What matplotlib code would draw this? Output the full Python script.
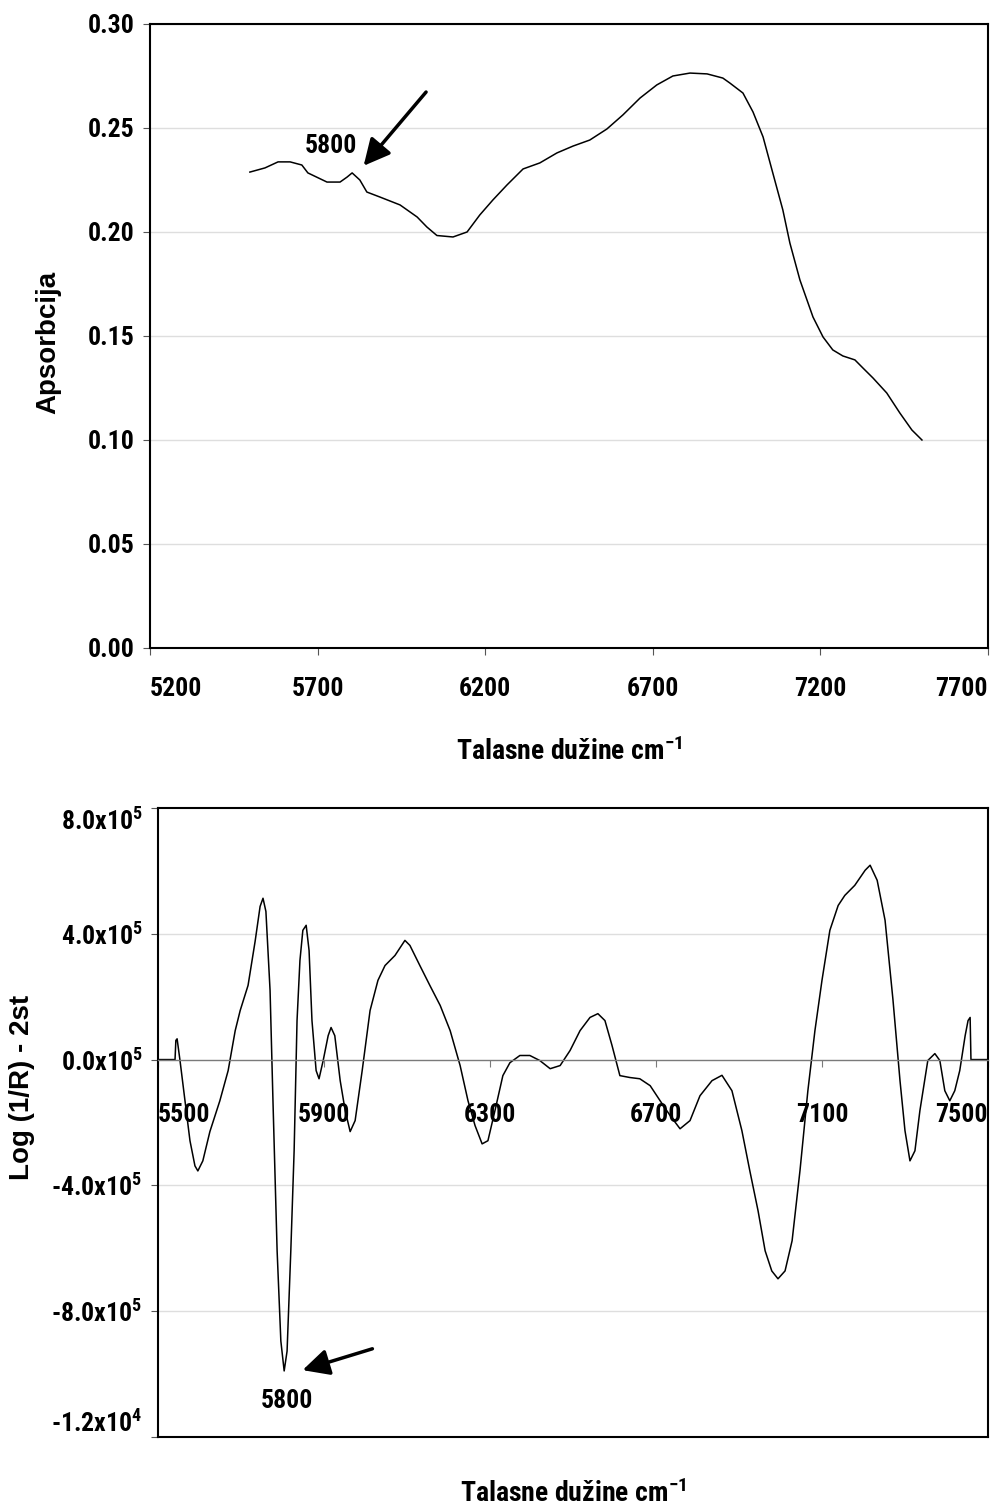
import matplotlib
matplotlib.use("Agg")
import matplotlib.pyplot as plt

# fonts: condensed bold like the original Excel chart
plt.rcParams['font.family'] = ['Roboto Condensed', 'Liberation Sans', 'DejaVu Sans']
plt.rcParams['font.weight'] = 'bold'
plt.rcParams['axes.labelweight'] = 'bold'
plt.rcParams['mathtext.fontset'] = 'custom'
plt.rcParams['mathtext.rm'] = 'Roboto Condensed:bold'
plt.rcParams['mathtext.bf'] = 'Roboto Condensed:bold'
plt.rcParams['mathtext.default'] = 'rm'

# ---------- data ----------
# top: absorption spectrum
abs_wn = [5498, 5543, 5582, 5618, 5653, 5671, 5728, 5767, 5788, 5803, 5826, 5847,
          5886, 5946, 5997, 6026, 6056, 6104, 6146, 6184, 6223, 6265, 6313, 6363,
          6414, 6462, 6512, 6563, 6611, 6662, 6712, 6760, 6811, 6862, 6909, 6930,
          6969, 6999, 7029, 7058, 7088, 7109, 7139, 7178, 7208, 7237, 7267, 7303,
          7327, 7357, 7398, 7437, 7473, 7503]
abs_val = [0.2288, 0.2308, 0.2337, 0.2337, 0.2322, 0.2284, 0.2240, 0.2240, 0.2264,
           0.2284, 0.2250, 0.2192, 0.2168, 0.2130, 0.2072, 0.2024, 0.1983, 0.1976,
           0.2000, 0.2082, 0.2154, 0.2226, 0.2303, 0.2332, 0.2380, 0.2413, 0.2442,
           0.2495, 0.2563, 0.2644, 0.2707, 0.2750, 0.2764, 0.2760, 0.2740, 0.2716,
           0.2668, 0.2577, 0.2457, 0.2284, 0.2106, 0.1947, 0.1769, 0.1591, 0.1495,
           0.1433, 0.1404, 0.1385, 0.1346, 0.1298, 0.1226, 0.1130, 0.1048, 0.1000]

# bottom: second derivative (units of 1e5)
d2_wn = [5500, 5541, 5543, 5546, 5553, 5565, 5577, 5589, 5596, 5608, 5625, 5649,
         5669, 5686, 5698, 5717, 5734, 5746, 5753, 5760, 5770, 5777, 5787, 5796,
         5804, 5811, 5820, 5828, 5835, 5842, 5849, 5857, 5864, 5871, 5881, 5888,
         5898, 5910, 5917, 5926, 5939, 5951, 5963, 5975, 5992, 6011, 6030, 6047,
         6071, 6095, 6107, 6131, 6155, 6180, 6204, 6228, 6247, 6264, 6281, 6295,
         6312, 6331, 6348, 6372, 6396, 6420, 6445, 6469, 6493, 6517, 6541, 6560,
         6577, 6594, 6613, 6637, 6661, 6686, 6710, 6734, 6758, 6782, 6806, 6835,
         6859, 6883, 6907, 6926, 6946, 6963, 6979, 6994, 7011, 7028, 7047, 7066,
         7083, 7100, 7119, 7139, 7155, 7179, 7204, 7216, 7233, 7252, 7271, 7288,
         7300, 7312, 7324, 7336, 7355, 7372, 7384, 7396, 7408, 7420, 7432, 7445,
         7452, 7457, 7459, 7500]
d2_val = [0.0, 0.0, 0.61, 0.66, -0.03, -1.31, -2.58, -3.38, -3.54, -3.22, -2.29, -1.31,
          -0.35, 0.92, 1.56, 2.36, 3.76, 4.87, 5.13, 4.71, 2.20, -1.31, -6.08, -8.95,
          -9.90, -9.27, -6.08, -2.90, 1.24, 3.15, 4.11, 4.27, 3.47, 1.24, -0.35, -0.61,
          -0.03, 0.76, 1.02, 0.76, -0.67, -1.62, -2.29, -1.94, -0.35, 1.56, 2.52, 2.99,
          3.31, 3.79, 3.63, 2.99, 2.36, 1.72, 0.92, -0.19, -1.31, -2.10, -2.68, -2.58,
          -1.62, -0.51, -0.10, 0.13, 0.13, -0.03, -0.29, -0.19, 0.29, 0.92, 1.34, 1.46,
          1.24, 0.45, -0.51, -0.57, -0.61, -0.83, -1.31, -1.78, -2.20, -1.94, -1.15, -0.67,
          -0.50, -0.99, -2.26, -3.53, -4.81, -6.08, -6.72, -6.97, -6.72, -5.76, -3.53, -0.99,
          0.92, 2.52, 4.11, 4.90, 5.22, 5.54, 6.02, 6.18, 5.70, 4.43, 1.91, -0.67,
          -2.26, -3.22, -2.90, -1.62, -0.03, 0.19, -0.03, -0.99, -1.31, -0.99, -0.35, 0.76,
          1.24, 1.34, 0.0, 0.0]

top_xticks = [5200, 5700, 6200, 6700, 7200, 7700]
top_yticks = [0.00, 0.05, 0.10, 0.15, 0.20, 0.25, 0.30]
bot_xticks = [5500, 5900, 6300, 6700, 7100, 7500]
bot_yticks = [8, 4, 0, -4, -8, -12]
bot_ylabels = [r'8.0x10$^{5}$', r'4.0x10$^{5}$', r'0.0x10$^{5}$',
               r'-4.0x10$^{5}$', r'-8.0x10$^{5}$', r'-1.2x10$^{4}$']

xlabel = r'Talasne dužine cm$^{-1}$'
TICK_FS = 18.5
GRID = '#dedede'
ARROW = dict(arrowstyle='-|>', lw=2.5, mutation_scale=40, color='black')

fig = plt.figure(figsize=(10.02, 15.08), dpi=100)

# ---------- top panel ----------
ax1 = fig.add_axes([0.1497, 0.5703, 0.8363, 0.4138])
ax1.plot(abs_wn, abs_val, color='black', lw=1.1)
ax1.set_xlim(5200, 7700)
ax1.set_ylim(0, 0.30)
ax1.set_xticks(top_xticks)
ax1.set_xticklabels([str(t) for t in top_xticks], fontsize=TICK_FS)
ax1.set_yticks(top_yticks)
ax1.set_yticklabels(['%.2f' % t for t in top_yticks], fontsize=TICK_FS)
xt = ax1.get_xticklabels()
xt[0].set_ha('left')
xt[-1].set_ha('right')
ax1.tick_params(axis='x', length=5, width=0.8, color='#555555', pad=16)
ax1.tick_params(axis='y', length=5, width=0.8, color='#555555', pad=6)
ax1.grid(True, axis='y', color=GRID, lw=1.0)
ax1.set_axisbelow(True)
for s in ax1.spines.values():
    s.set_linewidth(1.5)
ax1.set_xlabel(xlabel, fontsize=20, labelpad=26)
ax1.set_ylabel('Apsorbcija', fontsize=20, family='Liberation Sans', fontweight='bold')
ax1.yaxis.set_label_coords(-0.106, 0.49)

ax1.annotate('', xy=(5832, 0.2308), xytext=(6029, 0.2683), arrowprops=ARROW)
ax1.text(5740, 0.2413, '5800', fontsize=TICK_FS, ha='center', va='center')

# ---------- bottom panel ----------
ax2 = fig.add_axes([0.1577, 0.0471, 0.8283, 0.4171])
ax2.plot(d2_wn, d2_val, color='black', lw=1.1)
ax2.set_xlim(5500, 7500)
ax2.set_ylim(-12, 8)
ax2.set_yticks(bot_yticks)
ax2.set_yticklabels(bot_ylabels, fontsize=TICK_FS)
yt = ax2.get_yticklabels()
yt[0].set_va('top')
yt[-1].set_va('bottom')
ax2.tick_params(axis='y', length=5, width=0.8, color='#555555', pad=6)
for y in bot_yticks:
    if y not in (0, 8, -12):
        ax2.axhline(y, color=GRID, lw=1.0, zorder=0)
for s in ax2.spines.values():
    s.set_linewidth(1.5)

# x axis runs through zero, labels sit inside the plot
ax2.spines['bottom'].set_position(('data', 0))
ax2.spines['bottom'].set_color('#7a7a7a')
ax2.spines['bottom'].set_linewidth(1.0)
ax2.axhline(-12, color='black', lw=1.5, clip_on=False)
ax2.set_xticks(bot_xticks)
ax2.set_xticklabels([str(t) for t in bot_xticks], fontsize=TICK_FS)
bt = ax2.get_xticklabels()
bt[0].set_ha('left')
bt[-1].set_ha('right')
ax2.tick_params(axis='x', length=5, width=0.8, color='#7a7a7a', pad=26)

ax2.set_xlabel(xlabel, fontsize=20)
ax2.xaxis.set_label_coords(0.5, -0.068)
ax2.set_ylabel('Log (1/R) - 2st', fontsize=20, family='Liberation Sans', fontweight='bold')
ax2.yaxis.set_label_coords(-0.148, 0.556)

ax2.annotate('', xy=(5842, -9.90), xytext=(6023, -9.17), arrowprops=ARROW)
ax2.text(5811, -10.86, '5800', fontsize=TICK_FS, ha='center', va='center')

fig.savefig('out.png', dpi=100, facecolor='white')
